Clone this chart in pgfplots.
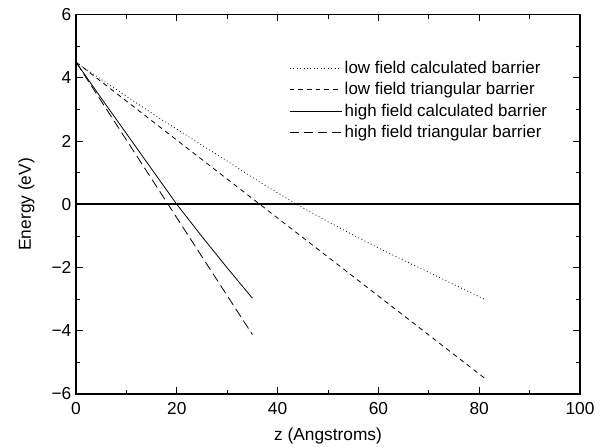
\documentclass[border=0pt]{standalone}
\usepackage{fontspec}
\setmainfont{Liberation Sans}
\usepackage{pgfplots}
\pgfplotsset{compat=1.18}

\begin{document}
\begin{tikzpicture}
  % frame the page like the reference (axis box 504x379 px inside 601x447)
  \useasboundingbox (-57pt,-39.75pt) rectangle (393.75pt,295.5pt);
  \begin{axis}[
      width=378pt, height=284.5pt, scale only axis,
      xmin=0, xmax=100, ymin=-6, ymax=6,
      xtick={0,20,...,100}, ytick={-6,-4,...,6},
      yticklabels={−6,−4,−2,0,2,4,6},
      minor x tick num=1, minor y tick num=1,
      tick align=inside, major tick length=5pt, minor tick length=3pt,
      axis line style={line width=0.8pt}, tick style={line width=0.6pt, black},
      tick label style={font=\fontsize{13}{15}\selectfont},
      xticklabel style={yshift=-3pt},
      /pgf/number format/assume math mode=true,
      xlabel={z (Angstroms)}, ylabel={Energy (eV)},
      label style={font=\fontsize{13}{15}\selectfont},
      xlabel style={yshift=-3pt}, ylabel style={yshift=6pt},
      legend style={draw=none, fill=none, at={(0.42,0.888)}, anchor=north west,
        font=\fontsize{12.7}{15}\selectfont, row sep=1.2pt, inner sep=1pt},
      legend cell align=left,
      legend image code/.code={\draw[#1] (0pt,0pt) -- (31.5pt,0pt);
        \path (0pt,0pt) -- (39pt,0pt);},
    ]
    \addplot[black, line width=0.6pt, dotted] coordinates {
      (0,4.5) (5,3.95) (10,3.42) (16.7,2.71) (20,2.38) (25,1.87) (30,1.37)
      (36.5,0.70) (43.8,0) (50,-0.55) (55,-0.97) (60,-1.38) (66.3,-1.87)
      (70,-2.15) (75,-2.54) (81,-3.0)};
    \addlegendentry{low field calculated barrier}
    \addplot[black, line width=0.6pt, dash pattern=on 3.5pt off 3pt] coordinates {
      (0,4.5) (81,-5.49)};
    \addlegendentry{low field triangular barrier}
    \addplot[black, line width=0.6pt] coordinates {
      (0,4.5) (5,3.36) (10,2.24) (15,1.12) (20,0) (25,-1.02) (30,-2.01) (35,-2.97)};
    \addlegendentry{high field calculated barrier}
    \addplot[black, line width=0.6pt, dash pattern=on 7pt off 3.5pt] coordinates {
      (0,4.5) (35,-4.12)};
    \addlegendentry{high field triangular barrier}
    \addplot[black, line width=1.6pt, forget plot] coordinates {(0,0) (100,0)};
  \end{axis}
\end{tikzpicture}
\end{document}
